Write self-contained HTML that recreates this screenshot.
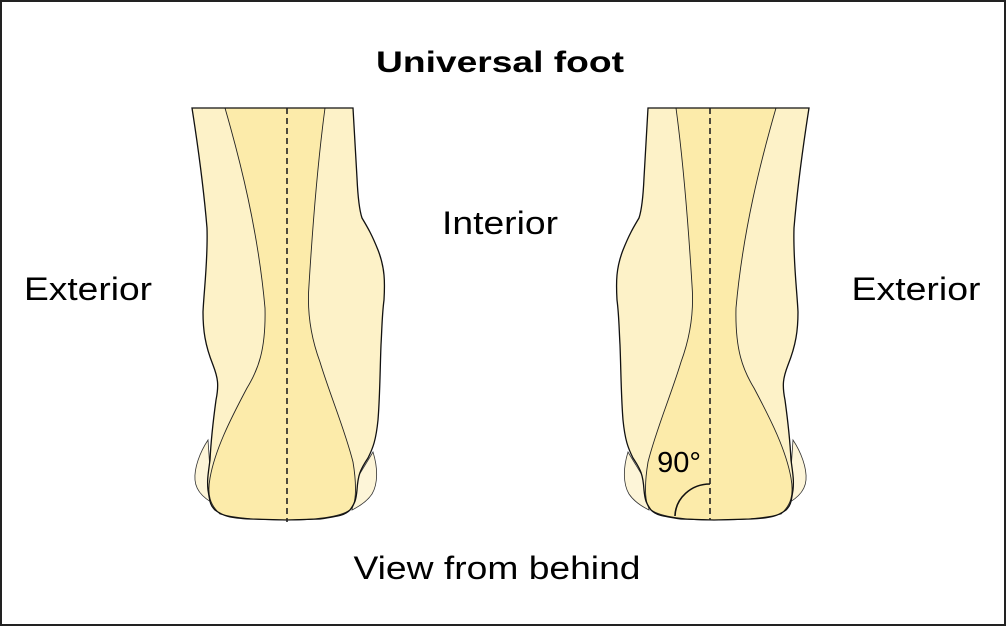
<!DOCTYPE html>
<html><head><meta charset="utf-8"><style>
html,body{margin:0;padding:0;background:#fff;}
svg{display:block;}
text{font-family:"Liberation Sans",Arial,sans-serif;fill:#000;}
</style></head><body>
<svg width="1007" height="627" viewBox="0 0 1007 627" xmlns="http://www.w3.org/2000/svg">
<rect x="1" y="1" width="1004" height="624" fill="#fff" stroke="#222" stroke-width="2"/>
<text x="500" y="72" font-size="30" font-weight="bold" text-anchor="middle" textLength="248" lengthAdjust="spacingAndGlyphs">Universal foot</text>
<text x="500" y="234" font-size="32" text-anchor="middle" textLength="116" lengthAdjust="spacingAndGlyphs">Interior</text>
<text x="88" y="300" font-size="32" text-anchor="middle" textLength="128" lengthAdjust="spacingAndGlyphs">Exterior</text>
<text x="916" y="300" font-size="32" text-anchor="middle" textLength="129" lengthAdjust="spacingAndGlyphs">Exterior</text>
<text x="497" y="579" font-size="32" text-anchor="middle" textLength="287" lengthAdjust="spacingAndGlyphs">View from behind</text>

<g id="foot">
  <path d="M208,440 C200,452 194,468 195,480 C196,492 205,500 222,508 L210,470 Z" fill="#fdf5d8" stroke="#333" stroke-width="0.8"/>
  <path d="M373,452 C378,468 378,484 372,494 C368,500 362,505 352,510 L356,480 Z" fill="#fdf5d8" stroke="#333" stroke-width="0.8"/>
  <path d="M192,108 L353,108 L357,178 C358,200 360,212 362,218 C368,228 372,235 378,250 C385,268 385,282 384,300 C382,315 382,328 381,345 C380,370 380,395 378,420 C376,440 373,448 368,458 C360,470 358,475 357,490 C356,500 355,503 350,510 C345,515 340,516 320,519 L287,520 L250,519 C230,518 223,516 215,510 C210,505 210,502 208,490 C207,480 208,475 210,460 C211,440 213,422 216,400 C219,385 218,378 213,365 C205,345 203,330 203,312 C204,290 208,260 207,228 C203,180 197,140 192,108 Z" fill="#fdf2c8" stroke="none"/>
  <path d="M225,108 C240,160 258,230 265,308 C266,350 258,370 247,388 C230,420 215,450 210,478 C207,495 210,505 220,514 C235,518 260,520 287,520 C320,520 345,516 352,508 C357,500 356,480 353,462 C345,430 330,395 320,362 C310,335 307,310 309,285 C313,220 318,160 325,108 Z" fill="#fcebaa" stroke="#222" stroke-width="0.9"/>
  <path d="M192,108 L353,108 L357,178 C358,200 360,212 362,218 C368,228 372,235 378,250 C385,268 385,282 384,300 C382,315 382,328 381,345 C380,370 380,395 378,420 C376,440 373,448 368,458 C360,470 358,475 357,490 C356,500 355,503 350,510 C345,515 340,516 320,519 L287,520 L250,519 C230,518 223,516 215,510 C210,505 210,502 208,490 C207,480 208,475 210,460 C211,440 213,422 216,400 C219,385 218,378 213,365 C205,345 203,330 203,312 C204,290 208,260 207,228 C203,180 197,140 192,108 Z" fill="none" stroke="#111" stroke-width="1.3"/>
</g>
<line x1="287" y1="108" x2="287" y2="522" stroke="#222" stroke-width="1.6" stroke-dasharray="6,4"/>

<use href="#foot" transform="translate(1001,0) scale(-1,1)"/>
<line x1="710" y1="108" x2="710" y2="520" stroke="#222" stroke-width="1.6" stroke-dasharray="6,4"/>
<path d="M675,516 A35,33 0 0 1 710,484" fill="none" stroke="#111" stroke-width="1.6"/>
<text x="679" y="472" font-size="29" text-anchor="middle">90°</text>
</svg>
</body></html>
